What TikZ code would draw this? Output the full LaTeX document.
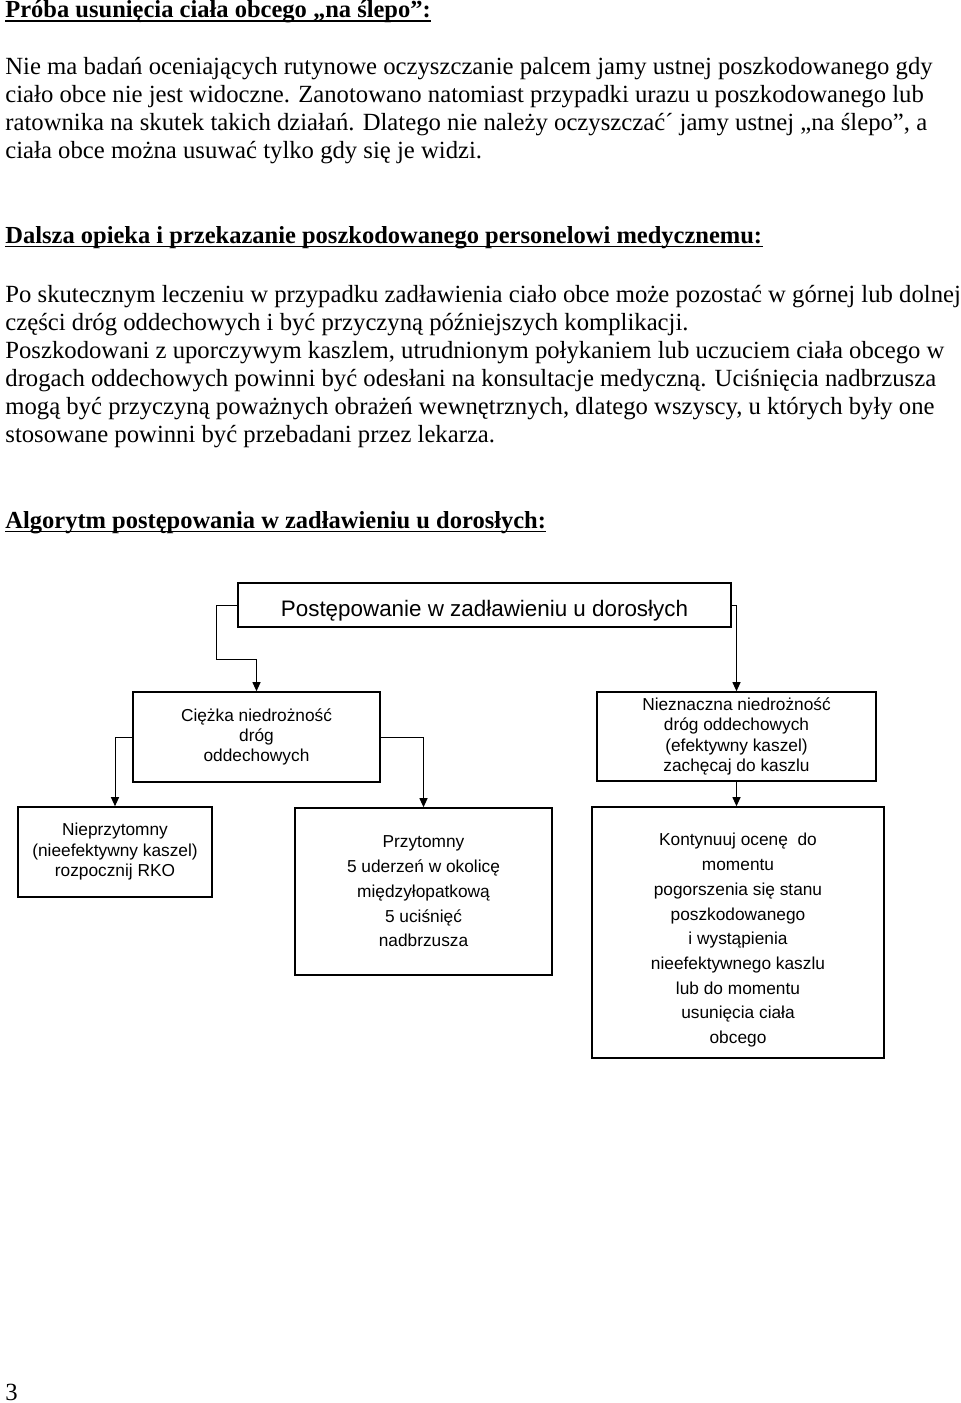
\documentclass[tikz,border=0pt]{standalone}
\usepackage{fontspec}
\setmainfont{Liberation Serif}
\newfontfamily\arialfont{Liberation Sans}
\usepackage{tikz}
\usetikzlibrary{arrows.meta}

\begin{document}
\begin{tikzpicture}[x=0.5pt,y=-0.5pt,
    conn/.style={line width=0.5pt,-{Triangle[length=4.5pt,width=4pt]}},
    uline/.style={line width=0.8pt}]

  \useasboundingbox (0,0) rectangle (960,1403);

  % page text, one node per line
  \begin{scope}[every node/.style={anchor=base west,inner sep=0pt,font=\fontsize{12.35pt}{14pt}\selectfont}]
    \node[font=\fontsize{12.25pt}{14pt}\selectfont\bfseries] (h1) at (5,17.5) {Próba usunięcia ciała obcego „na ślepo”:};

    \node (p1a) at (5,74.5) {Nie ma badań oceniających rutynowe oczyszczanie palcem jamy ustnej poszkodowanego gdy};
    \node (p1b) at (5,102.5) {ciało obce nie jest widoczne. Zanotowano natomiast przypadki urazu u poszkodowanego lub};
    \node (p1c) at (5,130.5) {ratownika na skutek takich działań. Dlatego nie należy oczyszczać´ jamy ustnej „na ślepo”, a};
    \node (p1d) at (5,158.5) {ciała obce można usuwać tylko gdy się je widzi.};

    \node[font=\fontsize{12.25pt}{14pt}\selectfont\bfseries] (h2) at (5,243) {Dalsza opieka i przekazanie poszkodowanego personelowi medycznemu:};

    \node (p2a) at (5,302) {Po skutecznym leczeniu w przypadku zadławienia ciało obce może pozostać w górnej lub dolnej};
    \node (p2b) at (5,330) {części dróg oddechowych i być przyczyną późniejszych komplikacji.};
    \node (p2c) at (5,358) {Poszkodowani z uporczywym kaszlem, utrudnionym połykaniem lub uczuciem ciała obcego w};
    \node (p2d) at (5,386) {drogach oddechowych powinni być odesłani na konsultacje medyczną. Uciśnięcia nadbrzusza};
    \node (p2e) at (5,414) {mogą być przyczyną poważnych obrażeń wewnętrznych, dlatego wszyscy, u których były one};
    \node (p2f) at (5,442) {stosowane powinni być przebadani przez lekarza.};

    \node[font=\fontsize{12.25pt}{14pt}\selectfont\bfseries] (h3) at (5,528) {Algorytm postępowania w zadławieniu u dorosłych:};

    \node (pnum) at (5,1400) {3};
  \end{scope}

  \draw[uline] ([yshift=-1.8pt]h1.base west) -- ([yshift=-1.8pt]h1.base east);
  \draw[uline] ([yshift=-1.8pt]h2.base west) -- ([yshift=-1.8pt]h2.base east);
  \draw[uline] ([yshift=-1.8pt]h3.base west) -- ([yshift=-1.8pt]h3.base east);

  % flowchart boxes
  \begin{scope}[every node/.style={draw,line width=0.8pt,align=center,inner sep=2pt,
      font=\arialfont\fontsize{8.65pt}{10pt}\selectfont}]
    \node[minimum width=246.5pt,minimum height=22pt,text height=11pt,text depth=0pt,
      font=\arialfont\fontsize{11.2pt}{13pt}\selectfont] (title) at (484.5,605) {Postępowanie w zadławieniu u dorosłych};

    \node[minimum width=123.5pt,minimum height=45pt] (ciezka) at (256.5,737) {Ciężka niedrożność\\dróg\\oddechowych};
    \node[minimum width=139.5pt,minimum height=44.5pt,
      font=\arialfont\fontsize{8.65pt}{10.15pt}\selectfont] (lekka) at (736.5,736.5) {Nieznaczna niedrożność\\dróg oddechowych\\(efektywny kaszel)\\zachęcaj do kaszlu};

    \node[minimum width=97pt,minimum height=45pt,
      font=\arialfont\fontsize{8.65pt}{10.25pt}\selectfont] (nieprzyt) at (115,852) {Nieprzytomny\\(nieefektywny kaszel)\\rozpocznij RKO};
    \node[minimum width=128.5pt,minimum height=83.5pt,
      font=\arialfont\fontsize{8.65pt}{12.35pt}\selectfont] (przyt) at (423.5,891.5) {Przytomny\\5 uderzeń w okolicę\\międzyłopatkową\\5 uciśnięć\\nadbrzusza};
    \node[minimum width=146pt,minimum height=125.5pt,
      font=\arialfont\fontsize{8.65pt}{12.35pt}\selectfont] (kontyn) at (738,932.5) {\rule{0pt}{14pt}Kontynuuj ocenę~ do\\momentu\\pogorszenia się stanu\\poszkodowanego\\i wystąpienia\\nieefektywnego kaszlu\\lub do momentu\\usunięcia ciała\\obcego};
  \end{scope}

  \coordinate (bend) at (216,659);

  \begin{scope}
    \draw[conn] (title.west) -| (bend) -| (ciezka.north);
    \draw[conn] (title.east) -| (lekka.north);
    \draw[conn] (ciezka.west) -| (nieprzyt.north);
    \draw[conn] (ciezka.east) -| (przyt.north);
    \draw[conn] (lekka.south) -- (lekka.south |- kontyn.north);
  \end{scope}
\end{tikzpicture}
\end{document}
